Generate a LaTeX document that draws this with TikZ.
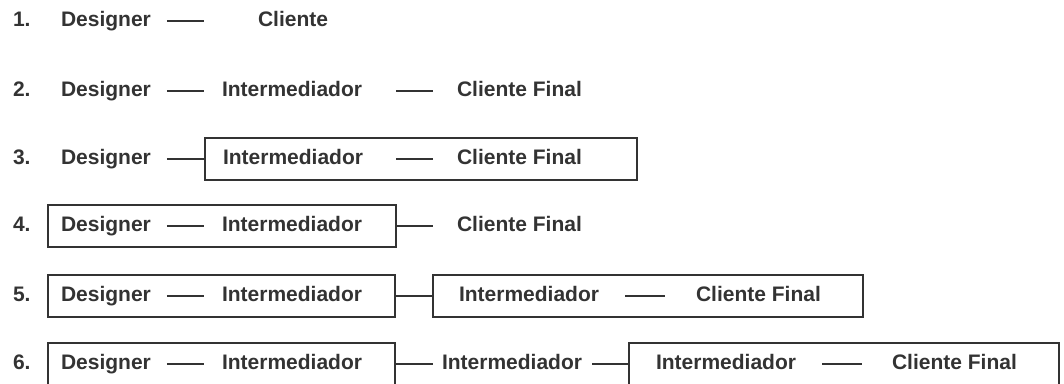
\documentclass[tikz,border=0pt]{standalone}
\usepackage{fontspec}
\setmainfont{Liberation Sans}
\definecolor{ink}{HTML}{333333}
\begin{document}
\begin{tikzpicture}[x=1pt,y=-1pt,
  lbl/.style={anchor=west, inner sep=0pt, outer sep=0pt, text=ink,
              text height=11pt, text depth=0pt,
              font=\bfseries\fontsize{21}{25}\selectfont},
  frame/.style={draw=ink, line width=2.2pt, anchor=west, minimum height=42pt,
                inner sep=0pt, outer sep=0pt},
  link/.style={draw=ink, line width=2.2pt}]
\useasboundingbox (0,0) rectangle (1064,383);
\clip (0,0) rectangle (1064,383);

% row numbers
\foreach \k/\y in {1/21, 2/91, 3/159, 4/226, 5/296, 6/364}
  \node[lbl] (n\k) at (13,\y) {\k.};

% 1. Designer -- Cliente
\node[lbl] (d1) at (61,21) {Designer};
\node[lbl] (c1) at (258,21) {Cliente};
\draw[link] ([xshift=16pt]d1.east) -- ([xshift=-54pt]c1.west);

% 2. Designer -- Intermediador -- Cliente Final
\node[lbl] (d2) at (61,91) {Designer};
\node[lbl] (i2) at (222,91) {Intermediador};
\node[lbl] (c2) at (457,91) {Cliente Final};
\draw[link] ([xshift=16pt]d2.east) -- ([xshift=-18pt]i2.west);
\draw[link] ([xshift=34pt]i2.east) -- ([xshift=-24pt]c2.west);

% 3. Designer -- [Intermediador -- Cliente Final]
\node[frame, minimum width=432pt] (b3) at (205,159) {};
\node[lbl] (d3) at (61,159) {Designer};
\node[lbl] (i3) at (223,159) {Intermediador};
\node[lbl] (c3) at (457,159) {Cliente Final};
\draw[link] ([xshift=16pt]d3.east) -- (b3.west);
\draw[link] ([xshift=33pt]i3.east) -- ([xshift=-24pt]c3.west);

% 4. [Designer -- Intermediador] -- Cliente Final
\node[frame, minimum width=348pt] (b4) at (48,226) {};
\node[lbl] (d4) at (61,226) {Designer};
\node[lbl] (i4) at (222,226) {Intermediador};
\node[lbl] (c4) at (457,226) {Cliente Final};
\draw[link] ([xshift=16pt]d4.east) -- ([xshift=-18pt]i4.west);
\draw[link] (b4.east) -- ([xshift=-24pt]c4.west);

% 5. [Designer -- Intermediador] -- [Intermediador -- Cliente Final]
\node[frame, minimum width=347pt] (b5a) at (48,296) {};
\node[frame, minimum width=430pt] (b5b) at (433,296) {};
\node[lbl] (d5) at (61,296) {Designer};
\node[lbl] (i5a) at (222,296) {Intermediador};
\node[lbl] (i5b) at (459,296) {Intermediador};
\node[lbl] (c5) at (696,296) {Cliente Final};
\draw[link] ([xshift=16pt]d5.east) -- ([xshift=-18pt]i5a.west);
\draw[link] (b5a.east) -- (b5b.west);
\draw[link] ([xshift=26pt]i5b.east) -- ([xshift=-31pt]c5.west);

% 6. [Designer -- Intermediador] -- Intermediador -- [Intermediador -- Cliente Final]
\node[frame, minimum width=347pt] (b6a) at (48,364) {};
\node[frame, minimum width=430pt] (b6b) at (629,364) {};
\node[lbl] (d6) at (61,364) {Designer};
\node[lbl] (i6a) at (222,364) {Intermediador};
\node[lbl] (i6m) at (442,364) {Intermediador};
\node[lbl] (i6b) at (656,364) {Intermediador};
\node[lbl] (c6) at (892,364) {Cliente Final};
\draw[link] ([xshift=16pt]d6.east) -- ([xshift=-18pt]i6a.west);
\draw[link] (b6a.east) -- ([xshift=-9pt]i6m.west);
\draw[link] ([xshift=10pt]i6m.east) -- (b6b.west);
\draw[link] ([xshift=26pt]i6b.east) -- ([xshift=-30pt]c6.west);
\end{tikzpicture}
\end{document}
